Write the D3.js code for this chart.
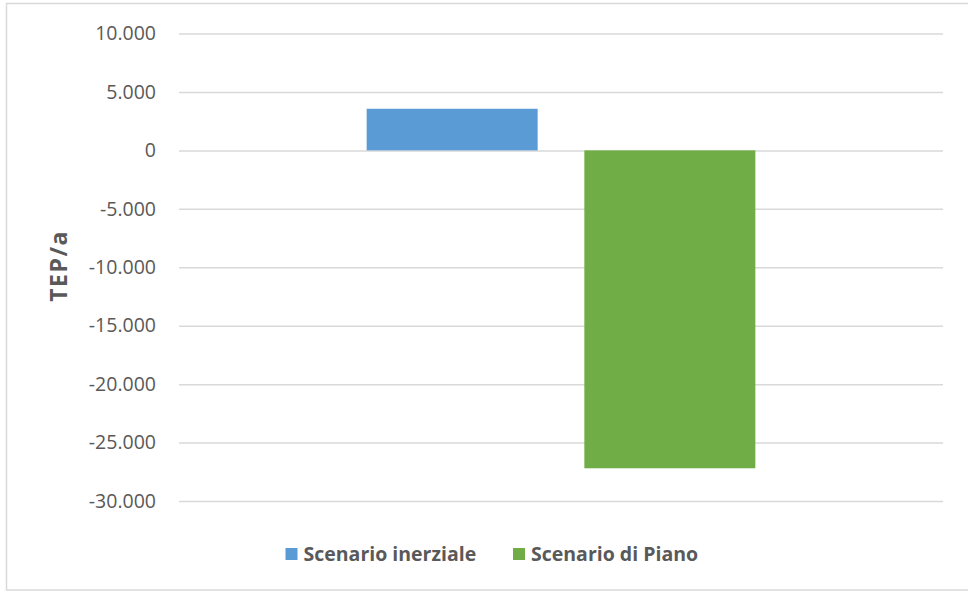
<!DOCTYPE html>
<html>
<head>
<meta charset="utf-8">
<script src="https://cdn.jsdelivr.net/npm/d3@7"></script>
<style>
  html, body { margin: 0; padding: 0; background: #fff; }
  svg { display: block; }
  text { font-family: "Open Sans", "Noto Sans", sans-serif; fill: #595959; }
</style>
</head>
<body>
<svg id="chart" width="968" height="591"></svg>
<script>
// Annual energy balance by scenario (TEP per year)
const categories = [""];
const seriesNames = ["Scenario inerziale", "Scenario di Piano"];
const seriesValues = [3560, -27200];
const seriesColors = ["#5b9bd5", "#70ad47"];
const tickValues = [10000, 5000, 0, -5000, -10000, -15000, -20000, -25000, -30000];
const axisTitle = "TEP/a";

const svg = d3.select("#chart");
const W = 968, H = 591;
const plot = { left: 179, right: 943, top: 33.5, bottom: 501 };

// Outer frame
svg.append("rect")
  .attr("x", 6.5).attr("y", 3.5)
  .attr("width", W + 10).attr("height", H - 4.5)
  .attr("fill", "#fff").attr("stroke", "#d9d9d9").attr("stroke-width", 1.5);

const y = d3.scaleLinear()
  .domain([-30000, 10000])
  .range([plot.bottom, plot.top]);

const x0 = d3.scaleBand()
  .domain(categories)
  .range([plot.left, plot.right])
  .paddingInner(0)
  .paddingOuter(0.4828);

const x1 = d3.scaleBand()
  .domain(seriesNames)
  .range([0, x0.bandwidth()])
  .paddingInner(0.2145)
  .paddingOuter(0);

const fmt = v => d3.format(",")(v).replace(/,/g, ".").replace("−", "-");

// Gridlines with tick labels
const yAxis = d3.axisLeft(y)
  .tickValues(tickValues)
  .tickSize(-(plot.right - plot.left))
  .tickPadding(23)
  .tickFormat(fmt);

const gAxis = svg.append("g")
  .attr("transform", `translate(${plot.left},0)`)
  .call(yAxis);
gAxis.select(".domain").remove();
gAxis.selectAll(".tick line").attr("stroke", "#d9d9d9").attr("stroke-width", 1.5);
gAxis.selectAll(".tick text")
  .style("font-size", "19.5px")
  .attr("fill", "#595959");

// Bars
const data = seriesNames.map((name, i) => ({ name, value: seriesValues[i], color: seriesColors[i], cat: categories[0] }));
svg.append("g").selectAll("rect")
  .data(data)
  .join("rect")
  .attr("x", d => x0(d.cat) + x1(d.name))
  .attr("width", x1.bandwidth())
  .attr("y", d => y(Math.max(0, d.value)))
  .attr("height", d => Math.abs(y(d.value) - y(0)))
  .attr("fill", d => d.color);

// Axis title
svg.append("text")
  .attr("transform", `translate(67,266) rotate(-90)`)
  .attr("text-anchor", "middle")
  .style("font-size", "23px")
  .style("letter-spacing", "1.5px")
  .style("font-weight", "bold")
  .text(axisTitle);

// Legend
const legendX = [285.5, 513];
const legend = svg.append("g").selectAll("g")
  .data(data)
  .join("g")
  .attr("transform", (d, i) => `translate(${legendX[i]},548)`);
legend.append("rect")
  .attr("width", 12).attr("height", 12)
  .attr("fill", d => d.color);
legend.append("text")
  .attr("x", 18).attr("y", 6)
  .attr("dy", "0.36em")
  .style("font-size", "19.5px")
  .style("font-weight", "bold")
  .text(d => d.name);
</script>
</body>
</html>
